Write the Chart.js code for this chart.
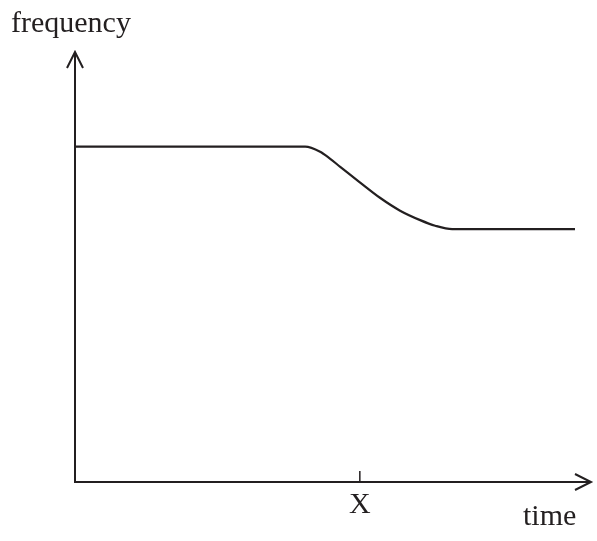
<!DOCTYPE html>
<html>
<head>
<meta charset="utf-8">
<script src="https://cdn.jsdelivr.net/npm/chart.js@4"></script>
<style>
  html, body { margin: 0; padding: 0; background: #fff; }
  #wrap { width: 597px; height: 541px; }
</style>
</head>
<body>
<div id="wrap"><canvas id="freqChart" width="597" height="541"></canvas></div>
<script>
// time (arbitrary units) and frequency (arbitrary units)
const times = [0, 44.6, 47.5, 49.4, 51.4, 55.2, 59.1, 63.0, 66.9, 69.8, 73.1, 96.9];
const frequencies = [78.0, 78.0, 76.8, 75.2, 73.3, 69.7, 66.1, 63.1, 60.9, 59.6, 58.8, 58.8];

const xTickValues = [55.2];
const xTickLabels = ['X'];
const xAxisLabel = 'time';
const yAxisLabel = 'frequency';

const ink = '#231f20';
const font = '30px "Liberation Serif", "Times New Roman", serif';

// draws the two arrowed axes, the X mark and the text labels
const sketchAxes = {
    id: 'sketchAxes',
    afterDraw(chart) {
        const ctx = chart.ctx;
        const area = chart.chartArea;
        const xs = chart.scales.x;
        ctx.save();
        ctx.strokeStyle = ink;
        ctx.lineWidth = 2;
        ctx.lineCap = 'butt';

        // axes
        ctx.beginPath();
        ctx.moveTo(area.left, area.top);
        ctx.lineTo(area.left, area.bottom);
        ctx.lineTo(area.right, area.bottom);
        ctx.stroke();

        // arrowheads
        ctx.beginPath();
        ctx.moveTo(area.left - 8, area.top + 16);
        ctx.lineTo(area.left, area.top);
        ctx.lineTo(area.left + 8, area.top + 16);
        ctx.moveTo(area.right - 16, area.bottom - 8);
        ctx.lineTo(area.right, area.bottom);
        ctx.lineTo(area.right - 16, area.bottom + 8);
        ctx.stroke();

        // tick marks and labels on the time axis
        ctx.fillStyle = ink;
        ctx.font = font;
        ctx.lineWidth = 1.5;
        xTickValues.forEach((v, i) => {
            const px = xs.getPixelForValue(v);
            ctx.beginPath();
            ctx.moveTo(px, area.bottom - 11);
            ctx.lineTo(px, area.bottom);
            ctx.stroke();
            ctx.textAlign = 'center';
            ctx.textBaseline = 'alphabetic';
            ctx.fillText(xTickLabels[i], px, area.bottom + 31);
        });

        // axis names
        ctx.textAlign = 'left';
        ctx.fillText(yAxisLabel, 11, 32);
        ctx.fillText(xAxisLabel, 523, 525);
        ctx.restore();
    }
};

new Chart(document.getElementById('freqChart'), {
    type: 'line',
    data: {
        datasets: [{
            data: times.map((t, i) => ({ x: t, y: frequencies[i] })),
            borderColor: ink,
            borderWidth: 2.2,
            pointRadius: 0,
            fill: false,
            cubicInterpolationMode: 'monotone'
        }]
    },
    options: {
        responsive: false,
        animation: false,
        layout: { padding: { left: 75, right: 6, top: 52, bottom: 59 } },
        plugins: {
            legend: { display: false },
            tooltip: { enabled: false }
        },
        scales: {
            x: { type: 'linear', min: 0, max: 100, display: false },
            y: { type: 'linear', min: 0, max: 100, display: false }
        }
    },
    plugins: [sketchAxes]
});
</script>
</body>
</html>
